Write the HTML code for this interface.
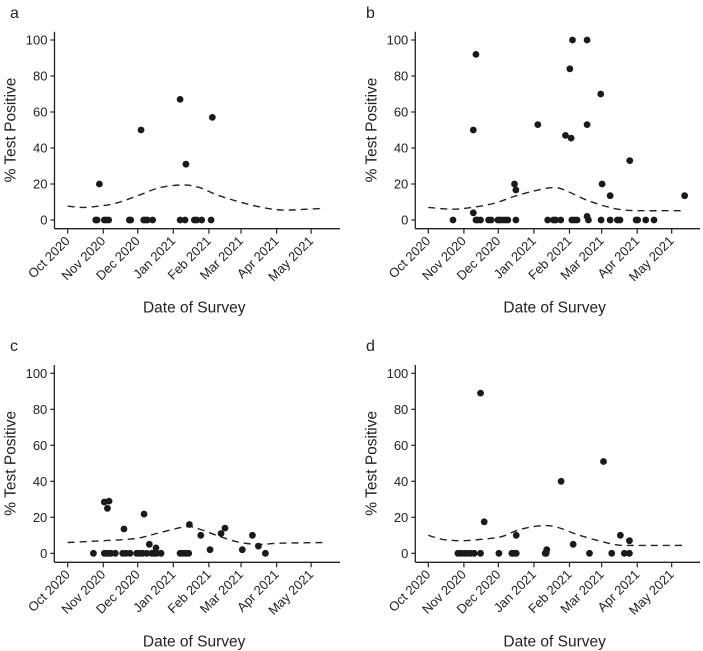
<!DOCTYPE html>
<html><head><meta charset="utf-8">
<style>
html,body{margin:0;padding:0;background:#fff;}
svg{display:block;font-family:"Liberation Sans","DejaVu Sans",sans-serif;}
</style></head>
<body>
<svg id="chart" width="703" height="651" viewBox="0 0 703 651"></svg>
<script>
// x values: days since 1 Oct 2020
const monthLabels = ["Oct 2020","Nov 2020","Dec 2020","Jan 2021","Feb 2021","Mar 2021","Apr 2021","May 2021"];
const monthDays = [0,31,61,92,123,151,182,212];
const yTicks = [0,20,40,60,80,100];

const aDays = [24.4,25.6,31.9,33.7,35.7,53.7,54.9,66.2,67.9,69.4,74,97.9,102.2,110.3,112.4,116.7,124.9,27.6,63.9,97.9,103,126];
const aVals = [0,0,0,0,0,0,0,0,0,0,0,0,0,0,0,0,0,20,50,67,31,57];
const aCurveDays = [0,13.6,31,45.6,63,80.4,100.7,115,129.8,150,173.3,190.7,208,224];
const aCurveVals = [7.7,7,8,10,14,18,19.5,18,14,10,6.5,5.5,6,6.5];

const bDays = [21.5,41.5,39.2,39.2,41.5,43.2,45.5,52.5,54.8,60.6,62.4,64.7,67,69.3,75.1,76.3,76.3,95.4,104,109,111,115.4,119.5,123.3,124.4,125.6,125,127.3,129.6,138.3,138.3,138.3,139.5,150.2,151.4,150.5,158.4,158.4,164.7,167,175.5,181,182.4,189.4,196.6,223.3];
const bVals = [0,92,50,4,0,0,0,0,0,0,0,0,0,0,20,16.7,0,53,0,0,0,0,47,84,45.5,100,0,0,0,100,53,2,0,70,20,0,13.5,0,0,0,33,0,0,0,0,13.5];
const bCurveDays = [0,20.6,38,57.4,75.7,96,111,122,136.3,150.7,165.2,182.6,223.6];
const bCurveVals = [7,6,7,9.3,13.3,16.7,18,15.7,11.5,8.3,6,5.2,5.2];

const cDays = [22.4,31.9,34.6,36,31.9,33.4,35.1,37.7,41.5,47.9,50.8,54.3,49,60.1,62.4,65.3,68.8,66.5,71.1,73.2,75.2,77.5,81.3,76.9,97.9,100.2,102.8,105.4,106,115.9,124,133.6,137,152.1,160.9,166.1,172.2];
const cVals = [0,28.5,25,29,0,0,0,0,0,0,0,0,13.5,0,0,0,0,21.8,5,0,0,0,0,3,0,0,0,0,16,10,2,11,14,2,10,4,0];
const cCurveDays = [0,31,60.1,80.4,103.7,115.3,132.7,150.1,167.5,184.9,224.2];
const cCurveVals = [6,7,8.3,11.5,14.8,13.3,9.3,6,5,5.6,6];

const dDays = [25.8,28.4,31.3,34.2,37.1,40,45.5,45.5,48.7,61.5,72.8,74.5,76.6,76.6,101.8,102.7,103.2,115.7,126.2,140.4,152.6,159.8,167.3,170.8,175.2,175.2];
const dVals = [0,0,0,0,0,0,0,89,17.5,0,0,0,0,10,0,0,2,40,5,0,51,0,10,0,7,0];
const dCurveDays = [0,11.9,29.3,49.6,64.1,78.6,96,110.5,130.8,151.1,165.6,180.1,223.6];
const dCurveVals = [10,7.8,7,8,9.3,13,15.2,14.8,10.2,6.5,4.6,4.4,4.4];

const NS = "http://www.w3.org/2000/svg";
const svg = document.getElementById("chart");
function mk(tag, attrs, parent){const e=document.createElementNS(NS,tag);for(const k in attrs)e.setAttribute(k,attrs[k]);(parent||svg).appendChild(e);return e;}

const panels = [
 {id:"a", ax:54.5, xEnd:340, x0:67.7, y0:220, y100:40, top:31.7, xAxisY:228.7, lx:10, ly:18, days:aDays, vals:aVals, cd:aCurveDays, cv:aCurveVals},
 {id:"b", ax:415.3, xEnd:700, x0:428.3, y0:220, y100:40, top:31.7, xAxisY:228.7, lx:366, ly:18, days:bDays, vals:bVals, cd:bCurveDays, cv:bCurveVals},
 {id:"c", ax:54.3, xEnd:340, x0:67.7, y0:553.3, y100:373.3, top:365, xAxisY:562.3, lx:10, ly:351, days:cDays, vals:cVals, cd:cCurveDays, cv:cCurveVals},
 {id:"d", ax:415.3, xEnd:700, x0:428.3, y0:553.3, y100:373.3, top:365, xAxisY:562.3, lx:366, ly:351, days:dDays, vals:dVals, cd:dCurveDays, cv:dCurveVals}
];
const pxPerDay = 1.148;

panels.forEach(p=>{
  const g = mk("g",{});
  
  
  const xs = d => p.x0 + d*pxPerDay;
  const ys = v => p.y0 - (v/100)*(p.y0-p.y100);

  const lab = mk("text",{x:p.lx,y:p.ly,"font-size":"16",fill:"#222"},g);
  lab.textContent = p.id;
  
  

  const yax = mk("line",{x1:p.ax,y1:p.top,x2:p.ax,y2:p.xAxisY,stroke:"#222","stroke-width":"1.3"},g);
  
  
  const xax = mk("line",{x1:p.ax,y1:p.xAxisY,x2:p.xEnd,y2:p.xAxisY,stroke:"#222","stroke-width":"1.3"},g);
  
  

  yTicks.forEach(v=>{
    const y = ys(v);
    mk("line",{x1:p.ax-4,y1:y,x2:p.ax,y2:y,stroke:"#222","stroke-width":"1.2"},g);
    const t = mk("text",{x:p.ax-7,y:y+4.5,"font-size":"13","text-anchor":"end",fill:"#222"},g);
    t.textContent = v;
    
    
  });
  monthDays.forEach((d,i)=>{
    const x = xs(d);
    mk("line",{x1:x,y1:p.xAxisY,x2:x,y2:p.xAxisY+5,stroke:"#222","stroke-width":"1.2"},g);
    const ty = p.xAxisY+10;
    const t = mk("text",{x:x+3,y:ty+3,"font-size":"13","text-anchor":"end",fill:"#222",transform:`rotate(-45 ${x+3} ${ty+3})`},g);
    t.textContent = monthLabels[i];
    
    
  });

  const xt = mk("text",{x:(p.ax+p.xEnd)/2-3,y:p.xAxisY+84,"font-size":"15.5","text-anchor":"middle",fill:"#222"},g);
  xt.textContent = "Date of Survey";
  
  
  const ycx = p.ax-39, ycy = (p.y0+p.y100)/2;
  const yt = mk("text",{x:ycx,y:ycy,"font-size":"15.5","text-anchor":"middle",fill:"#222",transform:`rotate(-90 ${ycx} ${ycy})`},g);
  yt.textContent = "% Test Positive";
  
  

  const pts = p.cd.map((d,i)=>[xs(d),ys(p.cv[i])]);
  let dstr = `M${pts[0][0]},${pts[0][1]}`;
  for(let i=0;i<pts.length-1;i++){
    const p0=pts[Math.max(0,i-1)],p1=pts[i],p2=pts[i+1],p3=pts[Math.min(pts.length-1,i+2)];
    const c1=[p1[0]+(p2[0]-p0[0])/6,p1[1]+(p2[1]-p0[1])/6];
    const c2=[p2[0]-(p3[0]-p1[0])/6,p2[1]-(p3[1]-p1[1])/6];
    dstr += ` C${c1[0]},${c1[1]} ${c2[0]},${c2[1]} ${p2[0]},${p2[1]}`;
  }
  const curve = mk("path",{d:dstr,fill:"none",stroke:"#222","stroke-width":"1.4","stroke-dasharray":"7,5"},g);
  
  

  p.days.forEach((d,i)=>{
    const c = mk("circle",{cx:xs(d),cy:ys(p.vals[i]),r:3.4,fill:"#1a1a1a"},g);
    
    
  });
});
</script>
</body></html>
